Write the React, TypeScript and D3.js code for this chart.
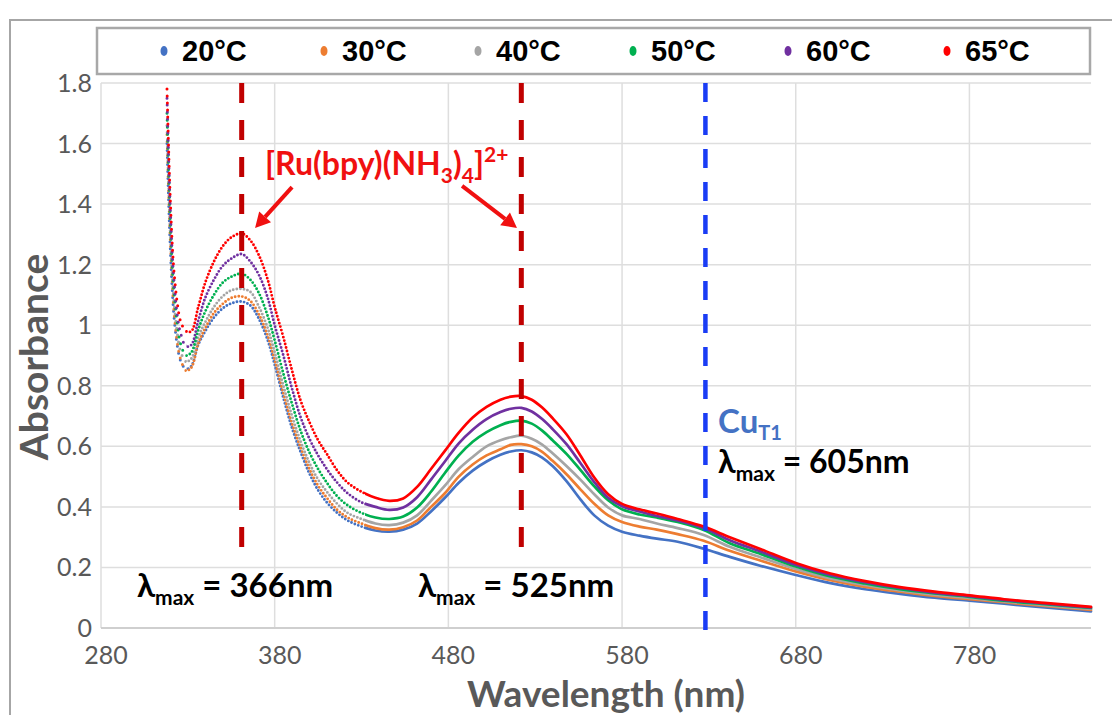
import React from "react";
import * as d3 from "d3";

// wavelength grid (nm) shared by all temperature series
const wavelengths = [
  318, 319, 320, 321, 322, 324, 326, 329, 332, 336, 340, 345, 350, 355, 361, 366, 371, 376, 380, 385,
  390, 395, 400, 405, 410, 416, 422, 430, 438, 446, 454, 462, 470, 478, 486, 494, 502, 510, 516, 522,
  528, 534, 540, 548, 556, 564, 572, 580, 590, 600, 612, 627, 642, 660, 680, 700, 720, 740, 760, 780,
  800, 825, 850,
];

const abs20 = [
  1.6, 1.4, 1.24, 1.12, 1.03, 0.93, 0.88, 0.855, 0.865, 0.935, 0.98, 1.025, 1.055, 1.072, 1.078, 1.065, 1.02, 0.95, 0.87, 0.76,
  0.66, 0.58, 0.51, 0.455, 0.415, 0.38, 0.355, 0.335, 0.322, 0.318, 0.325, 0.345, 0.385, 0.43, 0.48, 0.52, 0.55, 0.572, 0.583, 0.587,
  0.58, 0.563, 0.535, 0.485, 0.425, 0.372, 0.338, 0.318, 0.305, 0.295, 0.285, 0.262, 0.235, 0.205, 0.175, 0.148, 0.128, 0.113, 0.1, 0.09,
  0.08, 0.067, 0.055,
];
const abs30 = [
  1.63, 1.43, 1.27, 1.15, 1.05, 0.94, 0.885, 0.85, 0.86, 0.94, 0.99, 1.04, 1.07, 1.09, 1.095, 1.08, 1.035, 0.965, 0.885, 0.775,
  0.675, 0.595, 0.525, 0.47, 0.43, 0.39, 0.365, 0.345, 0.33, 0.325, 0.333, 0.355, 0.4, 0.445, 0.5, 0.54, 0.57, 0.59, 0.605, 0.607,
  0.6, 0.582, 0.552, 0.508, 0.458, 0.41, 0.372, 0.35, 0.335, 0.325, 0.31, 0.288, 0.255, 0.222, 0.187, 0.158, 0.136, 0.12, 0.106, 0.095,
  0.085, 0.072, 0.06,
];
const abs40 = [
  1.66, 1.46, 1.29, 1.17, 1.08, 0.97, 0.91, 0.88, 0.89, 0.96, 1.01, 1.06, 1.095, 1.115, 1.12, 1.11, 1.06, 0.99, 0.91, 0.8,
  0.7, 0.615, 0.545, 0.49, 0.45, 0.41, 0.38, 0.36, 0.345, 0.34, 0.348, 0.372, 0.42, 0.47, 0.525, 0.565, 0.6, 0.62, 0.63, 0.635,
  0.625, 0.606, 0.577, 0.535, 0.49, 0.442, 0.398, 0.372, 0.36, 0.345, 0.33, 0.307, 0.268, 0.233, 0.195, 0.164, 0.142, 0.124, 0.11, 0.099,
  0.088, 0.075, 0.063,
];
const abs50 = [
  1.7, 1.5, 1.33, 1.2, 1.11, 1.0, 0.935, 0.9, 0.91, 0.985, 1.045, 1.1, 1.14, 1.16, 1.17, 1.15, 1.105, 1.03, 0.95, 0.84,
  0.74, 0.65, 0.58, 0.525, 0.48, 0.435, 0.405, 0.38, 0.365, 0.36, 0.368, 0.398, 0.45, 0.512, 0.57, 0.615, 0.647, 0.67, 0.681, 0.685,
  0.675, 0.652, 0.62, 0.575, 0.522, 0.468, 0.422, 0.392, 0.375, 0.365, 0.35, 0.324, 0.28, 0.244, 0.203, 0.17, 0.147, 0.128, 0.114, 0.103,
  0.09, 0.078, 0.066,
];
const abs60 = [
  1.75, 1.54, 1.37, 1.24, 1.15, 1.03, 0.97, 0.93, 0.935, 1.015, 1.09, 1.15, 1.195, 1.22, 1.235, 1.21, 1.165, 1.09, 1.0, 0.9,
  0.79, 0.695, 0.625, 0.57, 0.525, 0.48, 0.445, 0.415, 0.4, 0.39, 0.398, 0.432, 0.49, 0.55, 0.61, 0.655, 0.69, 0.713, 0.724, 0.727,
  0.715, 0.69, 0.657, 0.607, 0.545, 0.482, 0.43, 0.402, 0.385, 0.37, 0.355, 0.33, 0.29, 0.252, 0.209, 0.175, 0.151, 0.132, 0.117, 0.105,
  0.093, 0.08, 0.068,
];
const abs65 = [
  1.78, 1.57, 1.4, 1.27, 1.18, 1.07, 1.01, 0.98, 0.98, 1.06, 1.14, 1.21, 1.26, 1.29, 1.303, 1.28, 1.23, 1.15, 1.06, 0.96,
  0.85, 0.75, 0.68, 0.62, 0.575, 0.52, 0.48, 0.45, 0.43, 0.42, 0.428, 0.466, 0.525, 0.585, 0.645, 0.695, 0.73, 0.754, 0.764, 0.766,
  0.754, 0.728, 0.693, 0.64, 0.57, 0.497, 0.442, 0.41, 0.392, 0.378, 0.36, 0.335, 0.3, 0.26, 0.215, 0.18, 0.155, 0.135, 0.12, 0.108,
  0.095, 0.082, 0.07,
];

const seriesNames = ["20°C", "30°C", "40°C", "50°C", "60°C", "65°C"];
const seriesValues = [abs20, abs30, abs40, abs50, abs60, abs65];
const seriesColors = ["#4472C4", "#ED7D31", "#A5A5A5", "#00B050", "#7030A0", "#FF0000"];

const xTicks = [280, 380, 480, 580, 680, 780];
const yTicks = [0, 0.2, 0.4, 0.6, 0.8, 1, 1.2, 1.4, 1.6, 1.8];

// annotation lines (nm)
const ruLines = [361, 522];
const cuLine = 628;

const W = 1112;
const H = 715;

export default function App() {
  const x = d3.scaleLinear().domain([280, 850]).range([101, 1091]);
  const y = d3.scaleLinear().domain([0, 1.8]).range([628, 83]);

  const line = d3
    .line<[number, number]>()
    .x((d) => x(d[0]))
    .y((d) => y(d[1]))
    .curve(d3.curveCatmullRom.alpha(0.5));

  // steep part is dotted, the flat tail reads as a solid line
  const zones = [
    { id: "z1", x0: 0, x1: x(329), dash: "0 7", w: 3 },
    { id: "z2", x0: x(329), x1: x(432), dash: "0 3.6", w: 2.9 },
    { id: "z3", x0: x(432), x1: W, dash: null, w: 2.7 },
  ];

  const arrow = (fx: number, fy: number, tx: number, ty: number) => {
    const x1 = x(fx), y1 = y(fy), x2 = x(tx), y2 = y(ty);
    const a = Math.atan2(y2 - y1, x2 - x1);
    const L = 15, half = 8;
    const bx = x2 - L * Math.cos(a), by = y2 - L * Math.sin(a);
    const pts = [
      [x2, y2],
      [bx + half * Math.sin(a), by - half * Math.cos(a)],
      [bx - half * Math.sin(a), by + half * Math.cos(a)],
    ];
    return (
      <g>
        <line x1={x1} y1={y1} x2={bx} y2={by} stroke="#F01010" strokeWidth={4} />
        <polygon points={pts.map((p) => p.join(",")).join(" ")} fill="#F01010" />
      </g>
    );
  };

  const font = "Lato, 'Open Sans', sans-serif";

  return (
    <svg
      width={W}
      height={H}
      style={{ position: "absolute", left: 0, top: 0, background: "#fff" }}
      fontFamily={font}
    >
      <defs>
        {zones.map((z) => (
          <clipPath id={z.id} key={z.id}>
            <rect x={z.x0} y={0} width={z.x1 - z.x0} height={H} />
          </clipPath>
        ))}
      </defs>

      {/* outer frame */}
      <path d={`M10,${H} L10,20 L${W},20`} fill="none" stroke="#a6a6a6" strokeWidth={2} />

      {/* grid */}
      {yTicks.map((t) => (
        <line key={"gy" + t} x1={x(280)} x2={x(850)} y1={y(t)} y2={y(t)} stroke="#dedede" strokeWidth={1.5} />
      ))}
      {xTicks.map((t) => (
        <line key={"gx" + t} x1={x(t)} x2={x(t)} y1={y(1.8)} y2={y(0)} stroke="#dedede" strokeWidth={1.5} />
      ))}
      <line x1={x(280)} x2={x(850)} y1={y(0)} y2={y(0)} stroke="#cfcfcf" strokeWidth={2} />

      {/* tick labels */}
      {yTicks.map((t) => (
        <text key={"ty" + t} x={92} y={y(t)} dy="0.36em" textAnchor="end" fontSize={25} fill="#595959">
          {d3.format("~g")(t)}
        </text>
      ))}
      {xTicks.map((t) => (
        <text key={"tx" + t} x={x(t) + 5} y={664} textAnchor="middle" fontSize={25} fill="#595959">
          {t}
        </text>
      ))}

      {/* axis titles */}
      <text
        transform={`translate(48,357) rotate(-90)`}
        textAnchor="middle"
        fontSize={39}
        fontWeight="bold"
        fill="#595959"
      >
        Absorbance
      </text>
      <text x={606} y={707} textAnchor="middle" fontSize={37} fontWeight="bold" fill="#595959">
        Wavelength (nm)
      </text>

      {/* spectra */}
      {seriesValues.map((vals, si) => {
        const d = line(wavelengths.map((w, i) => [w, vals[i]] as [number, number])) || "";
        return (
          <g key={seriesNames[si]}>
            {zones.map((z) => (
              <path
                key={z.id}
                d={d}
                clipPath={`url(#${z.id})`}
                fill="none"
                stroke={seriesColors[si]}
                strokeWidth={z.w}
                strokeLinecap="round"
                strokeDasharray={z.dash || undefined}
              />
            ))}
          </g>
        );
      })}

      {/* lambda max markers */}
      {ruLines.map((nm) => (
        <line
          key={"ru" + nm}
          x1={x(nm)}
          x2={x(nm)}
          y1={y(1.8)}
          y2={y(0.235)}
          stroke="#C00000"
          strokeWidth={5}
          strokeDasharray="20 17"
        />
      ))}
      <line
        x1={x(cuLine)}
        x2={x(cuLine)}
        y1={y(1.8)}
        y2={y(0) + 4}
        stroke="#1a3cf5"
        strokeWidth={4.5}
        strokeDasharray="19 14"
      />

      {/* annotations */}
      <text x={x(374.4)} y={y(1.496)} fontSize={32} fontWeight="bold" fill="#F01010">
        [Ru(bpy)(NH<tspan fontSize={21} dy={8}>3</tspan>
        <tspan dy={-8}>)</tspan>
        <tspan fontSize={21} dy={8}>4</tspan>
        <tspan dy={-8}>]</tspan>
        <tspan fontSize={21} dy={-13}>2+</tspan>
      </text>
      {arrow(390, 1.456, 368.7, 1.321)}
      {arrow(487.9, 1.46, 519.5, 1.321)}

      <text x={x(300.7)} y={y(0.102)} fontSize={33} fontWeight="bold" fill="#000">
        λ<tspan fontSize={21} dy={8}>max</tspan>
        <tspan dy={-8}> = 366nm</tspan>
      </text>
      <text x={x(462.5)} y={y(0.102)} fontSize={33} fontWeight="bold" fill="#000">
        λ<tspan fontSize={21} dy={8}>max</tspan>
        <tspan dy={-8}> = 525nm</tspan>
      </text>
      <text x={x(635.3)} y={y(0.645)} fontSize={33} fontWeight="bold" fill="#4472C4">
        Cu<tspan fontSize={20} dy={7}>T1</tspan>
      </text>
      <text x={x(635.3)} y={y(0.512)} fontSize={32} fontWeight="bold" fill="#000">
        λ<tspan fontSize={21} dy={8}>max</tspan>
        <tspan dy={-8}> = 605nm</tspan>
      </text>

      {/* legend */}
      <rect x={97} y={28} width={993} height={46} fill="#fff" stroke="#a8a8a8" strokeWidth={2.5} />
      {seriesNames.map((n, i) => {
        const lx = [164, 324, 478, 633, 788, 947][i];
        return (
          <g key={"lg" + n}>
            <ellipse cx={lx} cy={51} rx={3.5} ry={5} fill={seriesColors[i]} />
            <text
              x={lx + 18}
              y={51}
              dy="0.36em"
              fontSize={29}
              fontWeight="bold"
              fill="#000"
              fontFamily="'Liberation Sans', Arial, sans-serif"
            >
              {n}
            </text>
          </g>
        );
      })}
    </svg>
  );
}
